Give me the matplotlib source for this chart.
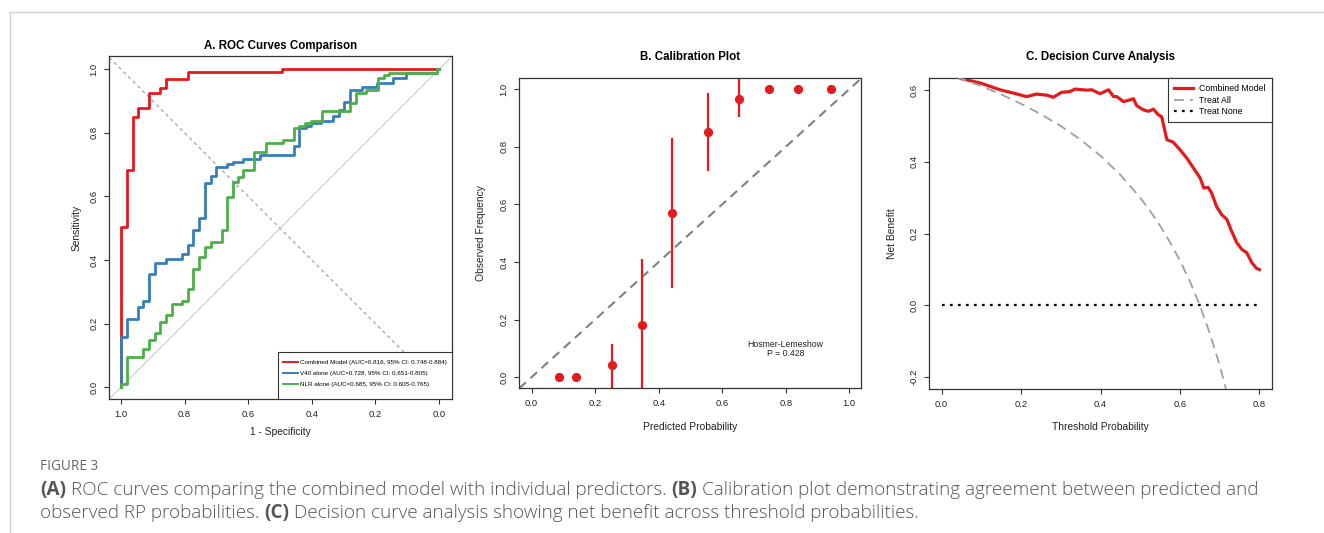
import numpy as np
import matplotlib
matplotlib.use("Agg")
import matplotlib.pyplot as plt
from matplotlib.lines import Line2D
from matplotlib.patches import Rectangle

plt.rcParams['font.family'] = ['Liberation Sans', 'DejaVu Sans']

W, H = 1324, 533

# Panel A - ROC curves (specificity, sensitivity at each step)
# -----------------------------------------------------------
comb_spec = [1, 1, 0.982, 0.964, 0.948, 0.912, 0.877, 0.860, 0.790, 0.495, 0.0]
comb_sens = [0, 0.504, 0.682, 0.850, 0.878, 0.925, 0.942, 0.971, 0.992, 1.0, 1.0]

v40_spec = [1, 1, 0.982, 0.948, 0.930, 0.912, 0.893, 0.860, 0.807, 0.790, 0.773,
            0.754, 0.736, 0.718, 0.701, 0.668, 0.649, 0.615, 0.563, 0.455, 0.440,
            0.419, 0.401, 0.370, 0.332, 0.315, 0.298, 0.281, 0.243, 0.196, 0.144,
            0.104, 0.007, 0.0]
v40_sens = [0, 0.157, 0.215, 0.252, 0.271, 0.355, 0.391, 0.404, 0.420, 0.448, 0.496,
            0.533, 0.643, 0.663, 0.693, 0.703, 0.710, 0.719, 0.731, 0.759, 0.814,
            0.822, 0.830, 0.839, 0.853, 0.872, 0.898, 0.935, 0.945, 0.956, 0.972,
            0.990, 1.0, 1.0]

nlr_spec = [1, 1, 0.982, 0.930, 0.912, 0.893, 0.877, 0.860, 0.841, 0.807, 0.790,
            0.773, 0.754, 0.736, 0.718, 0.683, 0.666, 0.649, 0.633, 0.615, 0.581,
            0.544, 0.492, 0.455, 0.439, 0.422, 0.403, 0.369, 0.280, 0.262, 0.229,
            0.192, 0.174, 0.157, 0.007, 0.0]
nlr_sens = [0, 0.010, 0.094, 0.121, 0.150, 0.171, 0.205, 0.226, 0.262, 0.271, 0.310,
            0.373, 0.409, 0.441, 0.456, 0.496, 0.598, 0.645, 0.661, 0.682, 0.739,
            0.769, 0.778, 0.814, 0.822, 0.830, 0.839, 0.870, 0.895, 0.925, 0.935,
            0.972, 0.982, 0.990, 1.0, 1.0]

roc_labels = ["Combined Model (AUC=0.816, 95% CI: 0.748-0.884)",
              "V40 alone (AUC=0.728, 95% CI: 0.651-0.805)",
              "NLR alone (AUC=0.685, 95% CI: 0.605-0.765)"]

# Panel B - calibration
# -----------------------------------------------------------
cal_pred = [0.087, 0.140, 0.254, 0.346, 0.443, 0.555, 0.654, 0.746, 0.839, 0.942]
cal_obs = [0.0, 0.0, 0.041, 0.181, 0.570, 0.851, 0.966, 1.0, 1.0, 1.0]
cal_low = [0.0, 0.0, -0.10, -0.10, 0.311, 0.716, 0.903, 1.0, 1.0, 1.0]
cal_high = [0.0, 0.0, 0.115, 0.410, 0.830, 0.986, 1.10, 1.0, 1.0, 1.0]

# Panel C - decision curve
# -----------------------------------------------------------
dca_thr = [0.0, 0.05, 0.097, 0.147, 0.180, 0.214, 0.239, 0.265, 0.281, 0.302,
           0.323, 0.336, 0.365, 0.378, 0.399, 0.420, 0.433, 0.441, 0.458, 0.474,
           0.483, 0.491, 0.508, 0.521, 0.533, 0.546, 0.554, 0.567, 0.583, 0.600,
           0.617, 0.634, 0.651, 0.660, 0.671, 0.680, 0.692, 0.705, 0.718, 0.730,
           0.743, 0.756, 0.768, 0.781, 0.793, 0.800]
dca_model = [0.655, 0.632, 0.620, 0.601, 0.592, 0.582, 0.589, 0.586, 0.580, 0.594,
             0.596, 0.603, 0.600, 0.601, 0.590, 0.601, 0.582, 0.582, 0.568, 0.573,
             0.576, 0.557, 0.545, 0.541, 0.547, 0.531, 0.526, 0.462, 0.455, 0.434,
             0.411, 0.383, 0.355, 0.327, 0.329, 0.313, 0.276, 0.253, 0.240, 0.207,
             0.175, 0.156, 0.147, 0.119, 0.103, 0.100]

all_thr = [0.0, 0.05, 0.10, 0.15, 0.20, 0.25, 0.30, 0.35, 0.40, 0.45, 0.50,
           0.525, 0.55, 0.575, 0.60, 0.625, 0.65, 0.675, 0.70, 0.72]
all_nb = [0.650, 0.632, 0.611, 0.588, 0.562, 0.533, 0.500, 0.462, 0.417, 0.364,
          0.300, 0.263, 0.222, 0.176, 0.125, 0.067, 0.0, -0.077, -0.167, -0.250]

none_thr = [0.0, 0.8]
none_nb = [0.0, 0.0]

red = '#e41a1c'
blue = '#377eb8'
green = '#4daf4a'


def box(l, t, r, b):
    return [l / W, 1 - b / H, (r - l) / W, (b - t) / H]


def r_style(ax, xl, yl, xoff, yoff):
    for s in ax.spines.values():
        s.set_color('#333333')
        s.set_linewidth(0.9)
    ax.tick_params(direction='out', length=3.6, width=0.8, color='#333333',
                   labelsize=6.8, pad=4.2, labelcolor='#222222')
    plt.setp(ax.get_yticklabels(), rotation=90, va='center')
    ax.set_xlabel(xl, fontsize=7.4, color='#222222')
    ax.set_ylabel(yl, fontsize=7.4, color='#222222')
    ax.xaxis.set_label_coords(0.5, xoff)
    ax.yaxis.set_label_coords(yoff, 0.5)
    ax.xaxis.label.set_va('center')
    ax.yaxis.label.set_va('center')


fig = plt.figure(figsize=(W / 100, H / 100), dpi=100)

# A. ROC
axA = fig.add_axes(box(109.3, 56, 451.7, 399.3))
axA.axline((1, 0), (0, 1), color='#cccccc', lw=0.8, zorder=1)
axA.axline((0, 0), (1, 1), color='#9a9a9a', lw=0.8, ls=(0, (3, 3)), zorder=1)
axA.plot(comb_spec, comb_sens, drawstyle='steps-post', color=red, lw=2, label=roc_labels[0])
axA.plot(v40_spec, v40_sens, drawstyle='steps-post', color=blue, lw=2, label=roc_labels[1])
axA.plot(nlr_spec, nlr_sens, drawstyle='steps-post', color=green, lw=2, label=roc_labels[2])
axA.set_xlim(1.037, -0.04)
axA.set_ylim(-0.038, 1.042)
axA.set_xticks([1.0, 0.8, 0.6, 0.4, 0.2, 0.0])
axA.set_yticks([0.0, 0.2, 0.4, 0.6, 0.8, 1.0])
axA.set_xticklabels(['1.0', '0.8', '0.6', '0.4', '0.2', '0.0'])
axA.set_yticklabels(['0.0', '0.2', '0.4', '0.6', '0.8', '1.0'])
r_style(axA, '1 - Specificity', 'Sensitivity', -32.4 / 343.3, -32.6 / 342.4)
axA.text(0.5, 1.030, 'A. ROC Curves Comparison', transform=axA.transAxes,
         ha='center', va='center', fontsize=8.3, fontweight='bold')
axA.add_patch(Rectangle((0.4936, 0), 0.5064, 0.1387, transform=axA.transAxes,
                        fc='white', ec='#333333', lw=0.8, zorder=4))
legA = axA.legend(loc='upper left', bbox_to_anchor=(0.4936, 0.1308), frameon=False,
                  fontsize=4.5, handlelength=2.4, handletextpad=0.35, borderpad=0.8,
                  labelspacing=0.92, borderaxespad=0)
legA.set_zorder(5)
for ln in legA.get_lines():
    ln.set_linewidth(1.4)

# B. Calibration
axB = fig.add_axes(box(519.3, 78.3, 861, 388.3))
axB.axline((0, 0), (1, 1), color='#808080', lw=1.5, ls=(0, (4.3, 2.9)), zorder=1)
axB.vlines(cal_pred, cal_low, cal_high, color=red, lw=1.6, zorder=2)
axB.plot(cal_pred, cal_obs, 'o', color=red, ms=5.6, zorder=3)
axB.set_xlim(-0.039, 1.037)
axB.set_ylim(-0.039, 1.038)
ticks = [0.0, 0.2, 0.4, 0.6, 0.8, 1.0]
axB.set_xticks(ticks)
axB.set_yticks(ticks)
axB.set_xticklabels(['0.0', '0.2', '0.4', '0.6', '0.8', '1.0'])
axB.set_yticklabels(['0.0', '0.2', '0.4', '0.6', '0.8', '1.0'])
r_style(axB, 'Predicted Probability', 'Observed Frequency', -38.4 / 310, -38.6 / 341.7)
axB.text(0.5, 1.0697, 'B. Calibration Plot', transform=axB.transAxes,
         ha='center', va='center', fontsize=8.3, fontweight='bold')
axB.text(0.80, 0.098, 'Hosmer-Lemeshow\nP = 0.428', ha='center', va='center',
         fontsize=6.3, linespacing=1.0, color='#222222')

# C. Decision curve
axC = fig.add_axes(box(929.3, 78.3, 1271.7, 389))
axC.plot(dca_thr, dca_model, color=red, lw=2.3, label='Combined Model', zorder=2)
axC.plot(all_thr, all_nb, color='#a0a0a0', lw=1.3, ls=(0, (5.5, 3.3)), label='Treat All', zorder=3)
axC.plot(none_thr, none_nb, color='black', lw=1.6, ls=(0, (1.2, 2.4)), label='Treat None', zorder=3)
axC.set_xlim(-0.031, 0.831)
axC.set_ylim(-0.233, 0.633)
axC.set_xticks([0.0, 0.2, 0.4, 0.6, 0.8])
axC.set_yticks([-0.2, 0.0, 0.2, 0.4, 0.6])
axC.set_xticklabels(['0.0', '0.2', '0.4', '0.6', '0.8'])
axC.set_yticklabels(['-0.2', '0.0', '0.2', '0.4', '0.6'])
r_style(axC, 'Threshold Probability', 'Net Benefit', -37.7 / 310.7, -37.6 / 342.4)
axC.text(0.5, 1.0698, 'C. Decision Curve Analysis', transform=axC.transAxes,
         ha='center', va='center', fontsize=8.3, fontweight='bold')
legC = axC.legend(loc='upper right', bbox_to_anchor=(1, 1), borderaxespad=0,
                  fontsize=6.3, handlelength=2.1, handletextpad=0.75, borderpad=0.7,
                  labelspacing=0.25, fancybox=False, edgecolor='#333333', framealpha=1)
legC.get_frame().set_linewidth(0.8)

# page frame
fig.add_artist(Line2D([10 / W, 1], [1 - 12 / H, 1 - 12 / H], color='#d2d2d8', lw=1))
fig.add_artist(Line2D([10 / W, 10 / W], [0, 1 - 12 / H], color='#d2d2d8', lw=1))

# caption
cap_font = ['Open Sans', 'DejaVu Sans']
cap_color = '#555555'
cap_size = 13.6
fig.text(40 / W, 1 - 466 / H, 'FIGURE 3', fontsize=9.8, color='#666666',
         family=cap_font, va='center')

renderer = fig.canvas.get_renderer()


def text_width(s, weight):
    t = fig.text(0, 0, s, fontsize=cap_size, family=cap_font, fontweight=weight)
    w = t.get_window_extent(renderer=renderer).width
    t.remove()
    return w


space_w = text_width('a a', 'light') - text_width('aa', 'light')

cap_lines = [
    [('(A)', 'bold'), ('ROC curves comparing the combined model with individual predictors.', 'light'),
     ('(B)', 'bold'), ('Calibration plot demonstrating agreement between predicted and', 'light')],
    [('observed RP probabilities.', 'light'), ('(C)', 'bold'),
     ('Decision curve analysis showing net benefit across threshold probabilities.', 'light')],
]
cap_y = [490, 513]

for parts, yy in zip(cap_lines, cap_y):
    x = 40
    for s, wt in parts:
        t = fig.text(x / W, 1 - yy / H, s, fontsize=cap_size, family=cap_font,
                     fontweight=wt, color=cap_color, va='center', ha='left')
        x += t.get_window_extent(renderer=renderer).width + space_w

fig.savefig('out.png', dpi=100, facecolor='white')
